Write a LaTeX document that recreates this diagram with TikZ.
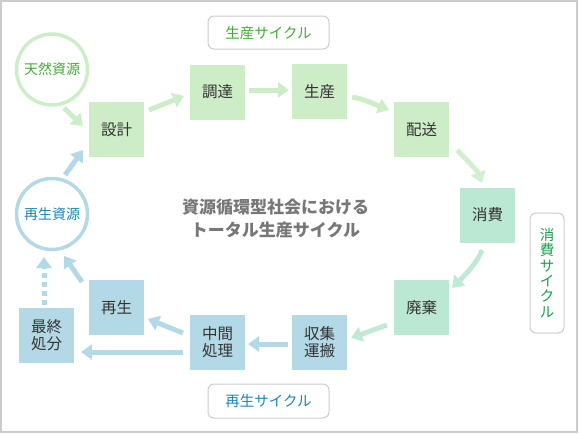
\documentclass[tikz,border=0pt]{standalone}
\usepackage{fontspec}
\setmainfont{Noto Sans CJK JP}
\usetikzlibrary{arrows.meta,calc}
\definecolor{gbox}{HTML}{CDEDC7}
\definecolor{mbox}{HTML}{BBE8D3}
\definecolor{bbox}{HTML}{B3D9E6}
\definecolor{garr}{HTML}{CDEDC7}
\definecolor{larr}{HTML}{D0F0CF}
\definecolor{marr}{HTML}{C0EAD6}
\definecolor{barr}{HTML}{B3D9E6}
\definecolor{txt}{HTML}{333333}
\definecolor{frame}{HTML}{CCCCCC}
\definecolor{gtext}{HTML}{45AC38}
\definecolor{etext}{HTML}{1E9E50}
\definecolor{btext}{HTML}{1D86B2}
\definecolor{ctext}{HTML}{777777}
\tikzset{
  stepbox/.style={minimum width=55pt,minimum height=55pt,inner sep=0pt,
    font=\fontsize{15.5}{17}\selectfont,text=txt,align=center},
  greenbox/.style={stepbox,fill=gbox},
  mintbox/.style={stepbox,fill=mbox},
  bluebox/.style={stepbox,fill=bbox},
  rescircle/.style={circle,minimum size=71pt,line width=3.5pt,fill=white,
    font=\fontsize{14}{16}\selectfont,inner sep=0pt},
  cyclelabel/.style={draw=frame,line width=1pt,rounded corners=6pt,fill=white,
    inner sep=0pt,font=\fontsize{14.5}{15.3}\selectfont,align=center},
  arr/.style={line width=5pt,-{Triangle[width=15pt,length=11pt]}},
}
\begin{document}
\begin{tikzpicture}[x=1pt,y=-1pt]
\useasboundingbox (0,0) rectangle (579,434);
\draw[frame,line width=1.5pt] (1,1) rectangle (577,432);

% cycle labels
\node[cyclelabel,minimum width=121pt,minimum height=33pt,text=gtext] (lprod) at (268.5,32.5) {生産サイクル};
\node[cyclelabel,minimum width=121pt,minimum height=34pt,text=btext] (lrecy) at (268.5,401) {再生サイクル};
\node[cyclelabel,minimum width=34pt,minimum height=120pt,text=etext] (lcons) at (547,273) {消\\費\\サ\\イ\\ク\\ル};

% centre caption
\node[font=\fontsize{17}{23}\selectfont\bfseries,text=ctext,align=center] (title) at (275.5,218.5) {資源循環型社会における\\トータル生産サイクル};

% resources
\node[rescircle,draw=gbox,text=gtext] (c1) at (52,69.5) {天然資源};
\node[rescircle,draw=bbox,text=btext] (c2) at (52,214) {再生資源};

% steps
\node[greenbox] (sekkei) at (116.5,129.5) {設計};
\node[greenbox] (chotatsu) at (217.5,92) {調達};
\node[greenbox] (seisan) at (319.5,91.5) {生産};
\node[greenbox] (haisou) at (421.5,129.5) {配送};
\node[mintbox] (shohi) at (487.5,215) {消費};
\node[mintbox] (haiki) at (421.5,307.5) {廃棄};
\node[bluebox] (shushu) at (319.5,342.5) {収集\\運搬};
\node[bluebox] (chukan) at (217.5,342.5) {中間\\処理};
\node[bluebox] (saisei) at (116.5,307.5) {再生};
\node[bluebox] (saishu) at (46.5,335.5) {最終\\処分};

% arrows
\draw[arr,garr] ($(c1)+(12,38.5)$) -- ($(sekkei)+(-33.5,-3.5)$);
\draw[arr,barr] ($(c2)+(13,-39)$) -- ($(sekkei)+(-33.5,20.5)$);
\draw[arr,garr] ($(sekkei)+(32.5,-19.5)$) -- ($(chotatsu)+(-33.5,4)$);
\draw[arr,garr] ($(chotatsu)+(31.5,-2)$) -- ($(seisan)+(-30.5,-1.5)$);
\draw[arr,garr] ($(seisan)+(32.5,5.5)$) .. controls ($(seisan)+(45,7.5)$) and ($(haisou)+(-44,-24)$) .. ($(haisou)+(-32.5,-19.5)$);
\draw[arr,larr] ($(haisou)+(35.5,20.5)$) .. controls ($(haisou)+(46,31)$) and ($(shohi)+(-10,-44)$) .. ($(shohi)+(-5.5,-32)$);
\draw[arr,marr] ($(shohi)+(-5.5,35)$) .. controls ($(shohi)+(-10,48)$) and ($(haiki)+(42,-31)$) .. ($(haiki)+(30.5,-19.5)$);
\draw[arr,marr] ($(haiki)+(-34.5,17.5)$) -- ($(shushu)+(31.5,-4.5)$);
\draw[arr,barr] ($(shushu)+(-31.5,1.5)$) -- ($(chukan)+(30.5,1.5)$);
\draw[arr,barr] ($(chukan)+(-34.5,-9.5)$) -- ($(saisei)+(31.5,11.5)$);
\draw[arr,barr] ($(chukan)+(-34.5,9.5)$) -- ($(saishu)+(34.5,16.5)$);
\draw[arr,barr] ($(saisei)+(-34.5,-25.5)$) -- ($(c2)+(12,42)$);
\draw[arr,barr,dash pattern=on 5pt off 4pt] ($(saishu)+(-2.5,-30.5)$) -- ($(c2)+(-8,43)$);
\end{tikzpicture}
\end{document}
